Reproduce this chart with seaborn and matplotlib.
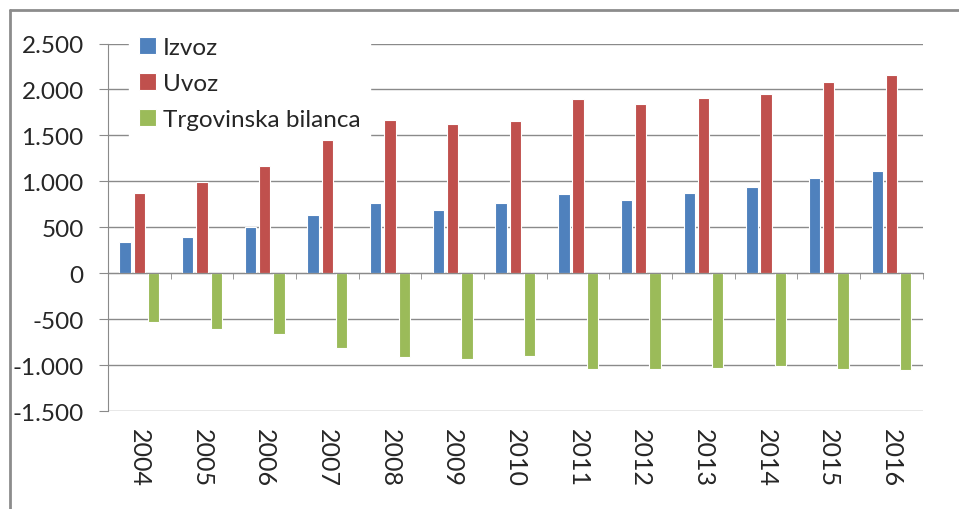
import pandas as pd
import numpy as np

import seaborn as sns
import matplotlib.pyplot as plt
from matplotlib.ticker import FuncFormatter, FixedLocator
from matplotlib.lines import Line2D


years = [str(y) for y in range(2004, 2017)]
izvoz = [341, 398, 508, 635, 762, 693, 762, 860, 802, 875, 941, 1039, 1111]
uvoz = [875, 999, 1170, 1446, 1672, 1629, 1657, 1897, 1839, 1908, 1952, 2080, 2159]
bilanca = [-534, -601, -662, -811, -910, -936, -895, -1037, -1037, -1033, -1011, -1041, -1048]

series = ["Izvoz", "Uvoz", "Trgovinska bilanca"]
colors = ["#4F81BD", "#C0504D", "#9BBB59"]


def thousands(v, pos):
    return f"{int(v):,}".replace(",", ".")


if __name__ == "__main__":
    df = pd.DataFrame({"year": years * 3,
                       "value": izvoz + uvoz + bilanca,
                       "series": np.repeat(series, len(years))})

    sns.set_style("white")
    plt.rcParams['font.family'] = ['Lato', 'DejaVu Sans']

    fig = plt.figure(figsize=(9.59, 5.10), dpi=100)
    ax = fig.add_axes([0.1126, 0.1916, 0.8496, 0.7211])

    sns.barplot(data=df, x="year", y="value", hue="series", palette=colors,
                saturation=1, width=0.68, gap=0.2, edgecolor="white",
                linewidth=0.8, ax=ax, zorder=3, legend=True)

    ax.set_ylim(-1500, 2500)
    ax.set_xlim(-0.5, len(years) - 0.5)
    ax.set_yticks(range(-1500, 2501, 500))
    ax.yaxis.set_major_formatter(FuncFormatter(thousands))
    ax.grid(axis="y", color="#8a8a8a", linewidth=1)
    ax.set_axisbelow(True)
    ax.set_xlabel("")
    ax.set_ylabel("")

    for s in ["top", "right"]:
        ax.spines[s].set_visible(False)
    ax.spines["left"].set_color("#8a8a8a")
    ax.spines["bottom"].set_color("#8a8a8a")
    ax.spines["bottom"].set_position(("data", 0))
    ax.spines["bottom"].set_zorder(4)

    ax.tick_params(axis="y", direction="out", length=6.5, color="#8a8a8a",
                   labelsize=17.5, pad=11, left=True)
    ax.xaxis.set_minor_locator(FixedLocator(np.arange(-0.5, len(years), 1)))
    ax.tick_params(axis="x", which="minor", direction="out", length=4,
                   color="#8a8a8a", bottom=True)
    ax.tick_params(axis="x", which="major", length=0, labelsize=18, pad=111)
    for lbl in ax.get_xticklabels():
        lbl.set_rotation(-90)
        lbl.set_va("top")
        lbl.set_ha("center")

    leg = ax.legend(loc="upper left", bbox_to_anchor=(0.011, 1.078),
                    frameon=True, facecolor="white", edgecolor="white",
                    framealpha=1, fontsize=17.5, handlelength=0.7,
                    handleheight=0.7, handletextpad=0.3, labelspacing=0.62,
                    borderpad=0.4, fancybox=False)
    leg.set_zorder(2.5)

    # outer chart frame (cropped on right and bottom)
    fig.add_artist(Line2D([10 / 959, 10 / 959], [0, 1 - 11 / 510],
                          color="#8c8c8c", linewidth=2))
    fig.add_artist(Line2D([10 / 959, 1], [1 - 11 / 510, 1 - 11 / 510],
                          color="#8c8c8c", linewidth=2))

    fig.savefig("out.png", dpi=100)
